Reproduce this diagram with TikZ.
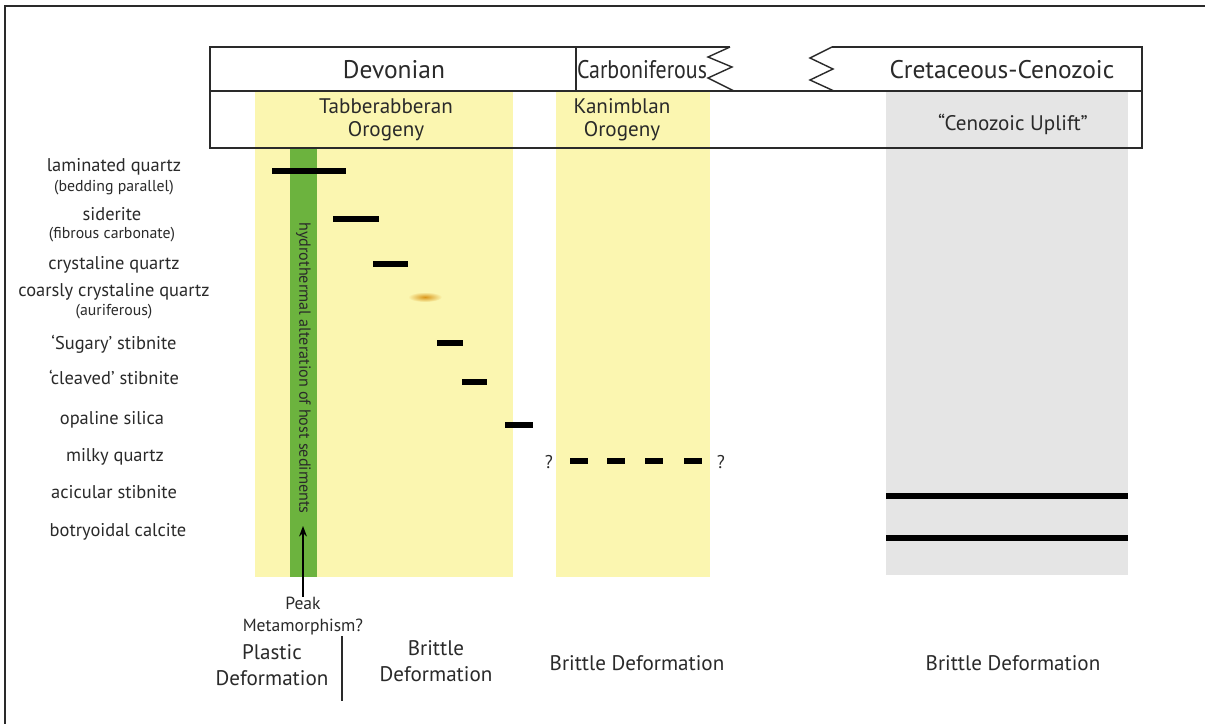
\documentclass[tikz,border=0pt]{standalone}
\usepackage{fontspec}
\setmainfont{PT Sans}
\usetikzlibrary{arrows.meta}
\definecolor{bandyellow}{HTML}{FBF6B0}
\definecolor{bandgray}{HTML}{E5E5E5}
\definecolor{altgreen}{HTML}{6CB33E}
\definecolor{goldore}{HTML}{D9961A}
\definecolor{inkc}{HTML}{2A2A2A}
\tikzset{
  frameline/.style={line width=0.9pt, draw=inkc},
  boxline/.style={line width=0.8pt, draw=inkc},
  bar/.style={line width=3pt, draw=black},
  mlabel/.style={font=\fontsize{10.5}{11}\selectfont, text=inkc, inner sep=0pt},
  slabel/.style={font=\fontsize{9}{10}\selectfont, text=inkc, inner sep=0pt},
  hlabel/.style={font=\fontsize{14.5}{16}\selectfont, text=inkc, inner sep=0pt},
  olabel/.style={font=\fontsize{12}{13}\selectfont, text=inkc, inner sep=0pt, align=center},
  plabel/.style={font=\fontsize{10}{12.5}\selectfont, text=inkc, inner sep=0pt, align=center},
  blabel/.style={font=\fontsize{12}{15}\selectfont, text=inkc, inner sep=0pt, align=center},
}
\begin{document}
\begin{tikzpicture}[x=0.02cm, y=-0.02cm]
\useasboundingbox (0,0) rectangle (1205,724);
\fill[white] (0,0) rectangle (1205,724);
% outer frame
\draw[frameline] (5,724) -- (5,6) -- (1205,6);
% bands
\fill[bandyellow] (255,91) rectangle (513,577);
\fill[bandyellow] (556,91) rectangle (710,577);
\fill[bandgray] (886,91) rectangle (1128,575);
% green alteration bar
\fill[altgreen] (290,148) rectangle (317,577);
\node[rotate=-90, font=\fontsize{9.2}{10}\selectfont, text=inkc, inner sep=0pt] (alt) at (303.5,368) {hydrothermal alteration of host sediments};
% header box
\draw[boxline] (576,47) -- (576,91);
\draw[boxline] (730,47) -- (210,47) -- (210,148) -- (1142,148) -- (1142,47) -- (832,47);
\draw[boxline] (210,91) -- (1142,91);
\draw[boxline] (730,47) -- (708,57) -- (732,67) -- (708,78) -- (734,91);
\draw[boxline] (832,47) -- (810,58) -- (833,69) -- (810,80) -- (834,91);
\node[hlabel] (dev) at (394,70) {Devonian};
\node[font=\fontsize{14.5}{16}\selectfont, text=inkc, inner sep=0pt] (carb) at (642,70) {\scalebox{0.86}[1]{Carboniferous}};
\node[hlabel] (cret) at (1002,70) {Cretaceous-Cenozoic};
\node[olabel] (tab) at (386,120) {Tabberabberan\\Orogeny};
\node[olabel] (kan) at (622,120) {Kanimblan\\Orogeny};
\node[olabel] (uplift) at (1013,124) {“Cenozoic Uplift”};
% mineral labels
\node[mlabel] (l1) at (114,167) {laminated quartz};
\node[slabel] (l1s) at (114,188) {(bedding parallel)};
\node[mlabel] (l2) at (112,214) {siderite};
\node[slabel] (l2s) at (112,235) {(fibrous carbonate)};
\node[mlabel] (l3) at (114,265) {crystaline quartz};
\node[mlabel] (l4) at (114,292) {coarsly crystaline quartz};
\node[slabel] (l4s) at (114,312) {(auriferous)};
\node[mlabel] (l5) at (114,344) {‘Sugary’ stibnite};
\node[mlabel] (l6) at (114,377) {‘cleaved’ stibnite};
\node[mlabel] (l7) at (112,420) {opaline silica};
\node[mlabel] (l8) at (115,457) {milky quartz};
\node[mlabel] (l9) at (114,492) {acicular stibnite};
\node[mlabel] (l10) at (118,532) {botryoidal calcite};
% bars
\draw[bar] (272,171) -- (346,171);
\draw[bar] (333,219) -- (379,219);
\draw[bar] (373,264) -- (408,264);
\shade[inner color=goldore, outer color=bandyellow] (425,297) ellipse (17 and 5);
\draw[bar] (437,343) -- (463,343);
\draw[bar] (462,382) -- (487,382);
\draw[bar] (505,425) -- (533,425);
\draw[bar] (570,461) -- (588,461);
\draw[bar] (607,461) -- (625,461);
\draw[bar] (645,461) -- (663,461);
\draw[bar] (684,461) -- (702,461);
\node[mlabel] (q1) at (549,462) {?};
\node[mlabel] (q2) at (721,462) {?};
\draw[bar] (886,496) -- (1128,496);
\draw[bar] (886,538) -- (1128,538);
% peak metamorphism
\node[plabel] (peak) at (303,616) {Peak\\Metamorphism?};
\coordinate (arrtip) at (303,526);
\draw[line width=0.8pt, draw=black, -{Stealth[length=6pt,width=4.5pt]}] (peak.north) -- (arrtip);
% deformation labels
\node[blabel] (plastic) at (272,665) {Plastic\\Deformation};
\coordinate (sepT) at (342,636);
\coordinate (sepB) at (342,701);
\draw[line width=0.8pt, draw=inkc] (sepT) -- (sepB);
\node[blabel] (brittle1) at (436,661) {Brittle\\Deformation};
\node[blabel] (brittle2) at (637,663) {Brittle Deformation};
\node[blabel] (brittle3) at (1013,663) {Brittle Deformation};
\end{tikzpicture}
\end{document}
